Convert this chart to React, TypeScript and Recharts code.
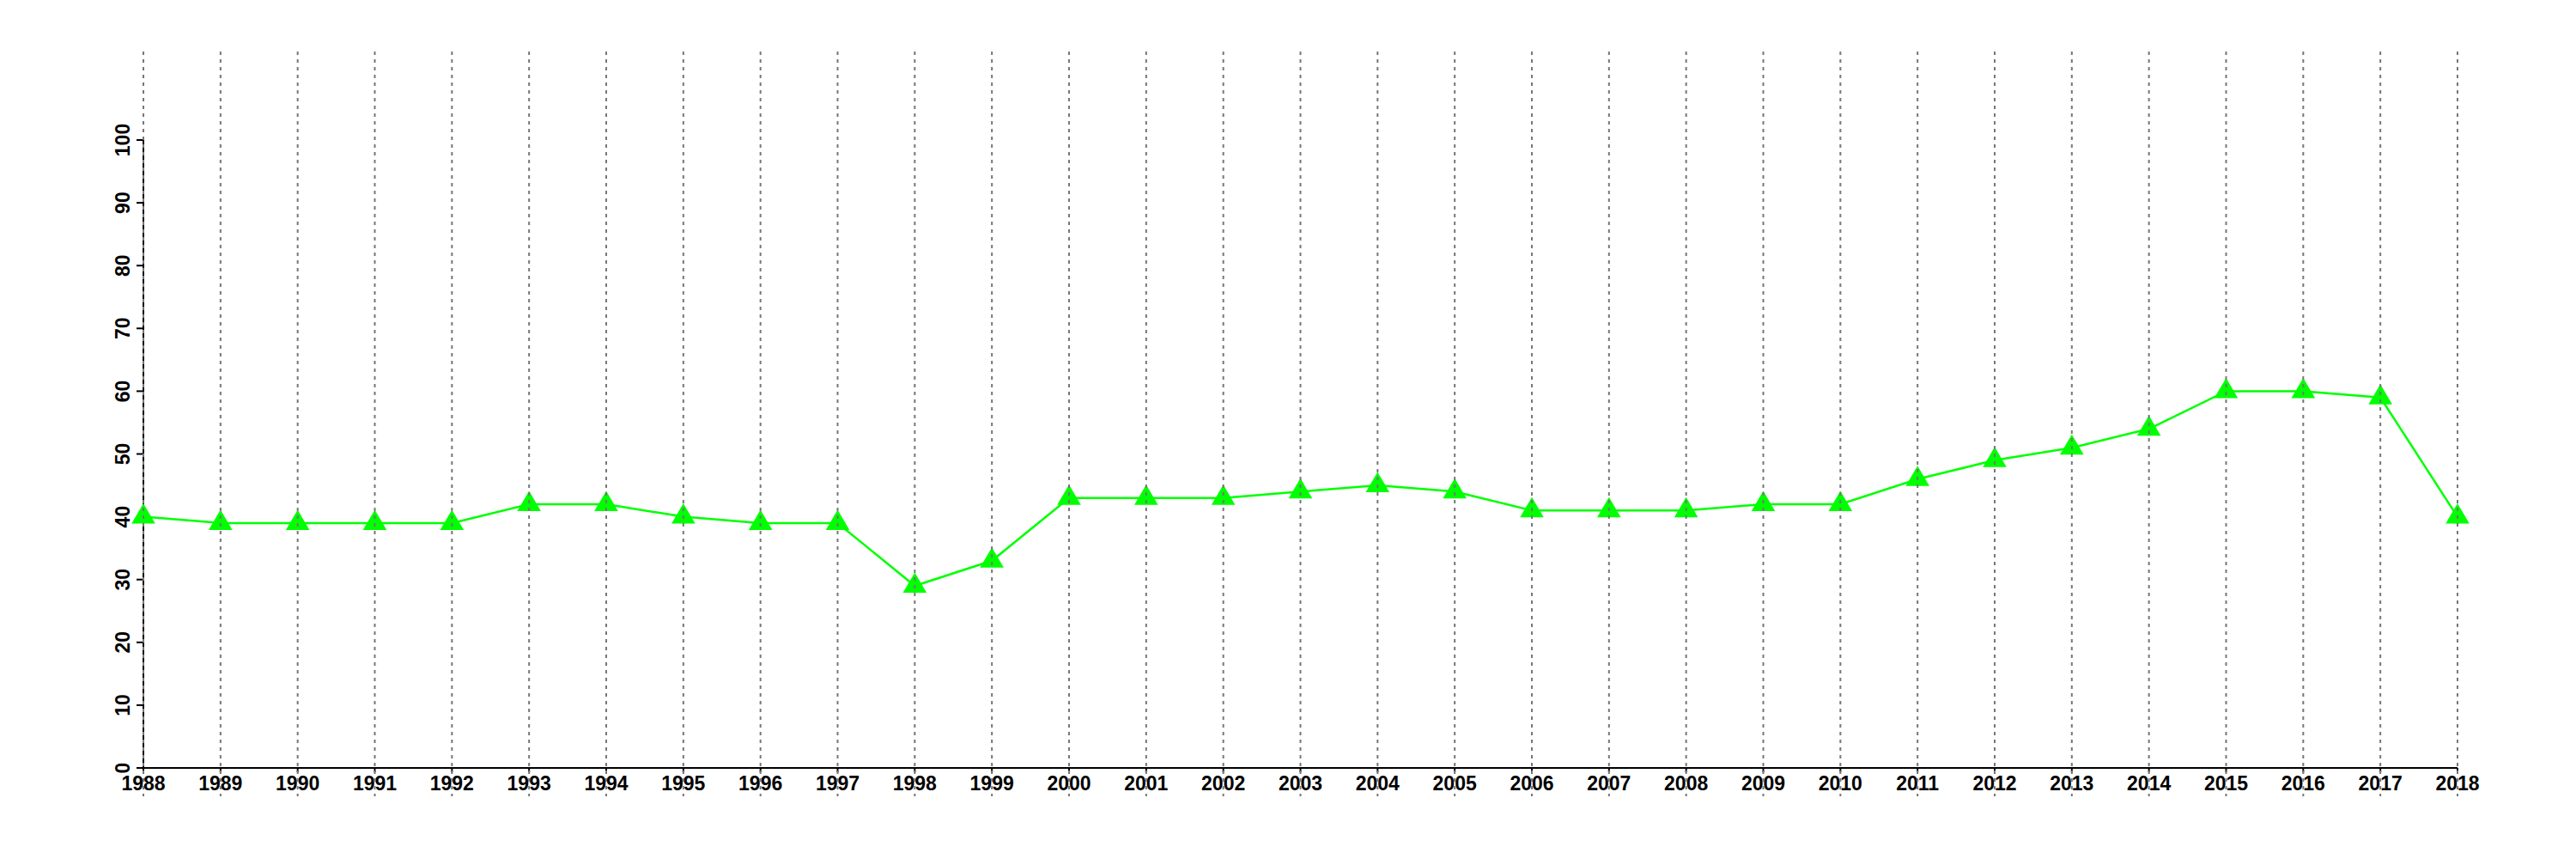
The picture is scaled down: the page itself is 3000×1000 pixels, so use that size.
import React from 'react';
import { LineChart, Line, XAxis, YAxis } from 'recharts';

const years = [1988, 1989, 1990, 1991, 1992, 1993, 1994, 1995, 1996, 1997, 1998, 1999, 2000, 2001, 2002, 2003, 2004, 2005, 2006, 2007, 2008, 2009, 2010, 2011, 2012, 2013, 2014, 2015, 2016, 2017, 2018];
const values = [40, 39, 39, 39, 39, 42, 42, 40, 39, 39, 29, 33, 43, 43, 43, 44, 45, 44, 41, 41, 41, 42, 42, 46, 49, 51, 54, 60, 60, 59, 40];
const yTicks = [0, 10, 20, 30, 40, 50, 60, 70, 80, 90, 100];

const data = years.map((y, i) => ({ year: y, value: values[i] }));

const FONT = '"Liberation Sans", Arial, Helvetica, sans-serif';
const GRID_TOP = 60;
const GRID_BOTTOM = 927;

const Triangle = (props: any) => {
  const { cx, cy } = props;
  if (cx == null || cy == null) return null;
  const hw = 13.8;
  const pts = `${cx},${cy - 15.5} ${cx - hw},${cy + 8} ${cx + hw},${cy + 8}`;
  return <polygon points={pts} fill="#00ff00" stroke="none" />;
};

const XTick = (props: any) => {
  const { x, y, payload } = props;
  return (
    <g>
      <text x={x} y={y + 21} textAnchor="middle" fontFamily={FONT} fontSize={23} fontWeight="bold" fill="#000">
        {payload.value}
      </text>
      <line x1={x} x2={x} y1={GRID_TOP} y2={GRID_BOTTOM} stroke="#777" strokeWidth={2} strokeDasharray="4 5" />
    </g>
  );
};

const YTick = (props: any) => {
  const { x, y, payload } = props;
  return (
    <text
      transform={`translate(${x - 8}, ${y}) rotate(-90)`}
      textAnchor="middle"
      fontFamily={FONT}
      fontSize={23}
      fontWeight="bold"
      fill="#000"
    >
      {payload.value}
    </text>
  );
};

export default function App() {
  return (
    <div style={{ position: 'absolute', left: 0, top: 0, width: 3000, height: 1000, background: '#fff' }}>
      <LineChart width={3000} height={1000} data={data} margin={{ top: 163, right: 138, bottom: 0, left: 0 }}>
        <Line
          dataKey="value"
          stroke="#00ff00"
          strokeWidth={2.5}
          dot={<Triangle />}
          activeDot={false}
          isAnimationActive={false}
        />
        <XAxis
          dataKey="year"
          type="number"
          domain={[1988, 2018]}
          ticks={years}
          interval={0}
          tick={<XTick />}
          tickSize={5}
          tickMargin={0}
          height={106}
          stroke="#000"
          axisLine={{ stroke: '#000', strokeWidth: 2 }}
          tickLine={{ stroke: '#000', strokeWidth: 2 }}
        />
        <YAxis
          type="number"
          domain={[0, 100]}
          ticks={yTicks}
          interval={0}
          tick={<YTick />}
          tickSize={8}
          tickMargin={0}
          width={167}
          axisLine={{ stroke: '#000', strokeWidth: 2 }}
          tickLine={{ stroke: '#000', strokeWidth: 2 }}
        />
      </LineChart>
    </div>
  );
}
